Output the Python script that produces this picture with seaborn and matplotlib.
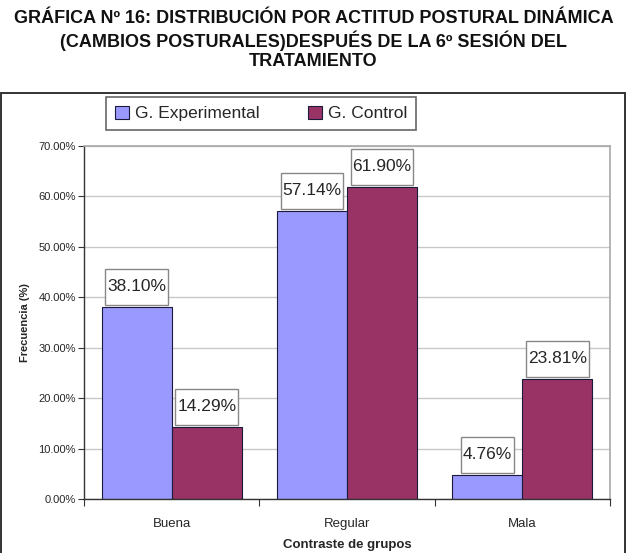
import pandas as pd
import seaborn as sns
import matplotlib.pyplot as plt
from matplotlib.patches import Rectangle
from matplotlib.path import Path
from matplotlib.ticker import FuncFormatter, FixedLocator

# Data
categorias = ['Buena', 'Regular', 'Mala']
grupos = ['G. Experimental', 'G. Control']
experimental = [38.10, 57.14, 4.76]
control = [14.29, 61.90, 23.81]
colores = ['#9999FF', '#993366']

titulo = ('GRÁFICA Nº 16: DISTRIBUCIÓN POR ACTITUD POSTURAL DINÁMICA\n'
          '(CAMBIOS POSTURALES)DESPUÉS DE LA 6º SESIÓN DEL\n'
          'TRATAMIENTO')

df = pd.DataFrame({
    'Categoria': categorias * 2,
    'Grupo': [grupos[0]] * 3 + [grupos[1]] * 3,
    'Frecuencia': experimental + control,
})

sns.set_style('white')
plt.rcParams['font.family'] = ['Liberation Sans', 'DejaVu Sans']


# label box: narrow sides, taller top/bottom like the Excel labels
def caja(x0, y0, width, height, mutation_size):
    px, py = 0.1 * mutation_size, 0.6 * mutation_size
    x0, y0 = x0 - px, y0 - py
    x1, y1 = x0 + width + 2 * px, y0 + height + 2 * py
    return Path([(x0, y0), (x1, y0), (x1, y1), (x0, y1), (x0, y0)], closed=True)


W, H = 627, 553
fig = plt.figure(figsize=(W / 100, H / 100), dpi=100)
ax = fig.add_axes([84 / W, 1 - 499 / H, (610 - 84) / W, (499 - 146) / H])

sns.barplot(data=df, x='Categoria', y='Frecuencia', hue='Grupo',
            palette=colores, saturation=1, width=0.8,
            edgecolor='#1a1a3a', linewidth=0.8, ax=ax)

# axes look
ax.set_ylim(0, 70)
ax.set_xlim(-0.5, 2.5)
ax.yaxis.set_major_locator(FixedLocator(range(0, 71, 10)))
ax.yaxis.set_major_formatter(FuncFormatter(lambda v, p: f'{v:.2f}%'))
ax.grid(axis='y', color='#c8c8c8', linewidth=1)
ax.set_axisbelow(True)
ax.tick_params(axis='y', labelsize=8, length=4, width=0.8, color='#333333',
               direction='out', left=True, pad=2)
ax.tick_params(axis='x', labelsize=9.5, length=0, pad=14)
ax.set_xticks([-0.5, 0.5, 1.5, 2.5], minor=True)
ax.tick_params(axis='x', which='minor', length=5, width=0.8,
               color='#333333', direction='out', bottom=True)
for s in ['left', 'bottom']:
    ax.spines[s].set_color('#333333')
    ax.spines[s].set_linewidth(1)
for s in ['top', 'right']:
    ax.spines[s].set_color('#a8a8a8')
    ax.spines[s].set_linewidth(1.2)

ax.set_ylabel('Frecuencia (%)', fontsize=8, fontweight='bold', labelpad=6)
ax.set_xlabel('Contraste de grupos', fontsize=9.5, fontweight='bold', labelpad=6)

# value labels in boxes
for cont in ax.containers:
    for bar in cont:
        h = bar.get_height()
        ax.annotate(f'{h:.2f}%', xy=(bar.get_x() + bar.get_width() / 2, h),
                    xytext=(0, 9), textcoords='offset points',
                    ha='center', va='bottom', fontsize=12.5,
                    bbox=dict(boxstyle=caja, fc='white', ec='#888888', lw=1))

# legend
handles, labels = ax.get_legend_handles_labels()
ax.legend_.remove()
fig.legend(handles, labels, loc='center', bbox_to_anchor=(261 / W, 1 - 113.5 / H),
           ncol=2, frameon=False, fontsize=12.5, handlelength=0.8,
           handleheight=0.8, handletextpad=0.35, columnspacing=2.8)
fig.patches.append(Rectangle((106 / W, 1 - 130 / H), 310 / W, 33 / H,
                             transform=fig.transFigure, fill=False,
                             ec='#666666', lw=1.2))

# outer chart frame
fig.patches.append(Rectangle((1 / W, -0.05), 624 / W, 1.05 - 93 / H,
                             transform=fig.transFigure, fill=False,
                             ec='#333333', lw=1.4, clip_on=False))

fig.text(0.5, 1 - 40 / H, titulo, ha='center', va='center', fontsize=13,
         fontweight='bold', color='#111111', linespacing=1.2)

fig.savefig('out.png', dpi=100)
